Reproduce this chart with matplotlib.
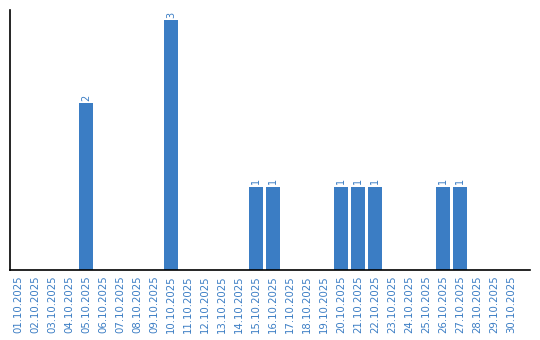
import matplotlib

matplotlib.use("Agg")
import matplotlib.pyplot as plt

dates = [f"{d:02d}.10.2025" for d in range(1, 31)]
counts = [0, 0, 0, 0, 2, 0, 0, 0, 0, 3,
          0, 0, 0, 0, 1, 1, 0, 0, 0, 1,
          1, 1, 0, 0, 0, 1, 1, 0, 0, 0]

BLUE = "#3b7dc4"

fig = plt.figure(figsize=(5.4, 3.4), dpi=100)
ax = fig.add_axes([10 / 540, 70 / 340, 520 / 540, 260 / 340])

x = list(range(len(dates)))
ax.bar(x, counts, width=0.82, color=BLUE)
for xi, c in zip(x, counts):
    if c > 0:
        ax.text(xi, c + 0.03, str(c), rotation=90, ha="center", va="bottom",
                color=BLUE, fontsize=7)

ax.set_xlim(-0.47, 30.12)
ax.set_ylim(0, 3.12)
ax.set_xticks(x)
ax.set_xticklabels(dates, rotation=90, color=BLUE, fontsize=7.3)
ax.tick_params(axis="x", length=0, pad=4)
ax.set_yticks([])
for side in ("top", "right"):
    ax.spines[side].set_visible(False)
ax.spines["left"].set_linewidth(1.2)
ax.spines["bottom"].set_linewidth(1.2)

fig.savefig("out.png", dpi=100)
